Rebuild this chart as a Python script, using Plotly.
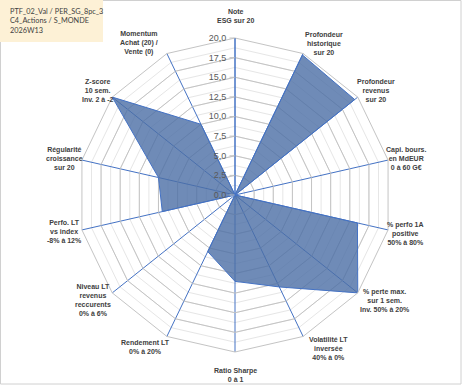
import plotly.graph_objects as go

# ---- data ----
categories = ["Note ESG", "Profondeur historique", "Profondeur revenus", "Capi. bours.",
              "% perfo 1A", "% perte max.", "Volatilité LT", "Ratio Sharpe",
              "Rendement LT", "Niveau LT", "Perfo. LT", "Régularité", "Z-score", "Momentum"]
axis_labels = ["Note<br>ESG sur 20",
               "Profondeur<br>historique<br>sur 20",
               "Profondeur<br>revenus<br>sur 20",
               "Capi. bours.<br>en MdEUR<br>0 à 60 G€",
               "% perfo 1A<br>positive<br>50% à 80%",
               "% perte max.<br>sur 1 sem.<br>Inv. 50% à 20%",
               "Volatilité LT<br>inversée<br>40% à 0%",
               "Ratio Sharpe<br>0 à 1",
               "Rendement LT<br>0% à 20%",
               "Niveau LT<br>revenus<br>reccurents<br>0% à 6%",
               "Perfo. LT<br>vs index<br>-8% à 12%",
               "Régularité<br>croissance<br>sur 20",
               "Z-score<br>10 sem.<br>Inv. 2 à -2",
               "Momentum<br>Achat (20) /<br>Vente (0)"]
values = [0, 19.8, 19.5, 0, 16, 20, 13, 11, 8, 0, 9.5, 10, 20, 10]
major_ticks = [0, 2.5, 5, 7.5, 10, 12.5, 15, 17.5, 20]
major_tick_text = ["0,0", "2,5", "5,0", "7,5", "10,0", "12,5", "15,0", "17,5", "20,0"]
minor_ticks = [0, 1.25, 2.5, 3.75, 5, 6.25, 7.5, 8.75, 10, 11.25, 12.5, 13.75, 15,
               16.25, 17.5, 18.75, 20]
title_lines = ["PTF_02_Val / PER_SG_8pc_3", "C4_Actions / S_MONDE", "2026W13"]

W, H = 467, 388
# label centre positions in pixels (layout)
label_pos = [(235, 16), (324, 43.5), (376, 90.5), (406.7, 158), (405, 233.3),
             (385, 300.5), (328, 348), (235, 374.5), (145, 347), (92.7, 300.3),
             (64.3, 231), (64.3, 158), (97.7, 90.3), (139.3, 43.2)]

cx, cy, R = 235, 195, 157
dom_x = [(cx - R) / W, (cx + R) / W]
dom_y = [(H - cy - R) / H, (H - cy + R) / H]

fig = go.Figure()
fig.add_trace(go.Scatterpolar(r=values, theta=categories, mode="lines",
                              line=dict(width=0), opacity=0, hoverinfo="skip",
                              subplot="polar", showlegend=False))
fig.add_trace(go.Scatterpolar(r=values + values[:1], theta=categories + categories[:1],
                              mode="lines", fill="toself",
                              fillcolor="rgba(75,110,165,0.8)",
                              line=dict(color="#4472C4", width=1),
                              subplot="polar2", showlegend=False))

common_ang = dict(direction="clockwise", rotation=90, showticklabels=False, ticks="")
fig.update_layout(
    width=W, height=H, margin=dict(l=0, r=0, t=0, b=0),
    paper_bgcolor="white", plot_bgcolor="white",
    polar=dict(domain=dict(x=dom_x, y=dom_y), gridshape="linear", bgcolor="white",
               radialaxis=dict(range=[0, 20], tickvals=minor_ticks, showticklabels=False,
                               gridcolor="#e6e6e6", gridwidth=1, showline=False, ticks=""),
               angularaxis=dict(categoryarray=categories, showgrid=False, showline=False,
                                **common_ang)),
    polar2=dict(domain=dict(x=dom_x, y=dom_y), gridshape="linear", bgcolor="rgba(0,0,0,0)",
                radialaxis=dict(range=[0, 20], tickvals=major_ticks, ticktext=major_tick_text,
                                angle=90, side="counterclockwise", tickangle=90,
                                gridcolor="#c4c4c4", gridwidth=1,
                                showline=True, linecolor="#4472C4", linewidth=1,
                                ticks="outside", ticklen=5, tickcolor="#c4c4c4",
                                tickfont=dict(family="Liberation Sans", size=9, color="#595959")),
                angularaxis=dict(categoryarray=categories, showgrid=True, gridcolor="#4472C4",
                                 gridwidth=1, showline=True, linecolor="#c4c4c4",
                                 **common_ang)),
)

for (px, py), txt in zip(label_pos, axis_labels):
    fig.add_annotation(x=px / W, y=1 - py / H, xref="paper", yref="paper",
                       text="<b>" + txt + "</b>", showarrow=False, xanchor="center",
                       yanchor="middle", align="center",
                       font=dict(family="Liberation Sans", size=7, color="#404040"))

# frame and title box
fig.add_shape(type="rect", xref="paper", yref="paper", x0=0.5 / W, x1=461 / W,
              y0=1 - 384 / H, y1=1 - 0.5 / H, line=dict(color="#d0d0d0", width=1),
              layer="below")
fig.add_shape(type="rect", xref="paper", yref="paper", x0=0, x1=103 / W,
              y0=1 - 42 / H, y1=1, line=dict(width=0), fillcolor="#FDF1D6")
fig.add_annotation(x=8 / W, y=1 - 5 / H, xref="paper", yref="paper",
                   text="<br>".join(title_lines), showarrow=False, xanchor="left",
                   yanchor="top", align="left",
                   font=dict(family="Lato", size=7.3, color="#404040"))

fig.write_html("out.html", config={"displayModeBar": False},
               post_script="document.body.style.margin='0';")
